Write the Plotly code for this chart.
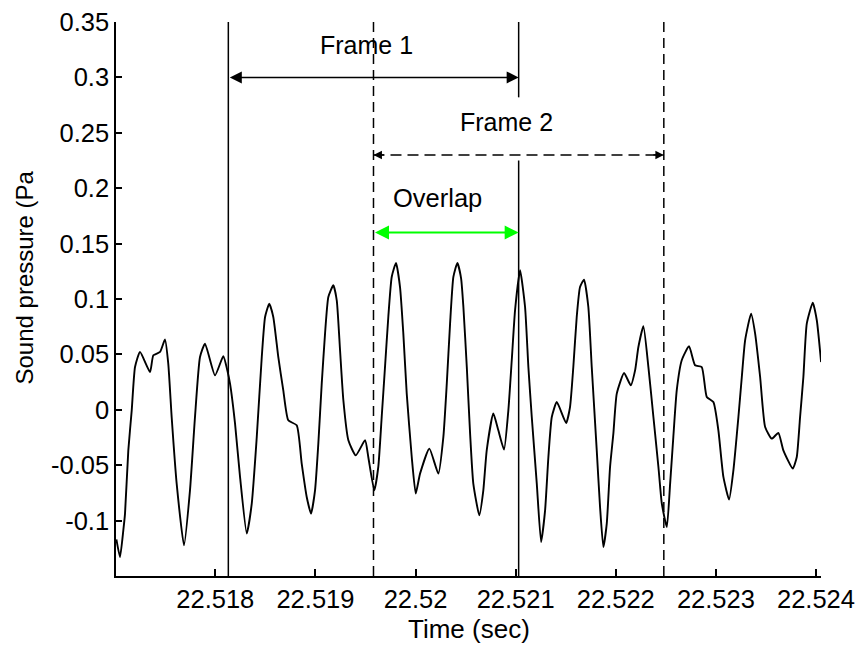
import plotly.graph_objects as go

# ---- data -------------------------------------------------------------
time_s = [
    22.517012, 22.517048, 22.517081, 22.517098, 22.517131, 22.517165, 22.517198, 22.517248,
    22.517348, 22.517381, 22.517448, 22.517497, 22.517530, 22.517564, 22.517614, 22.517687,
    22.517747, 22.517797, 22.517847, 22.517897, 22.517997, 22.518080, 22.518120, 22.518147,
    22.518197, 22.518247, 22.518314, 22.518364, 22.518414, 22.518464, 22.518497, 22.518539,
    22.518579, 22.518629, 22.518679, 22.518729, 22.518813, 22.518863, 22.518913, 22.518956,
    22.518996, 22.519029, 22.519063, 22.519096, 22.519129, 22.519179, 22.519213, 22.519246,
    22.519279, 22.519329, 22.519403, 22.519496, 22.519528, 22.519588, 22.519628, 22.519662,
    22.519695, 22.519728, 22.519762, 22.519805, 22.519845, 22.519878, 22.519912, 22.519962,
    22.520002, 22.520045, 22.520138, 22.520228, 22.520278, 22.520312, 22.520345, 22.520378,
    22.520418, 22.520455, 22.520478, 22.520512, 22.520545, 22.520577, 22.520637, 22.520677,
    22.520711, 22.520777, 22.520827, 22.520884, 22.520927, 22.520961, 22.520994, 22.521044,
    22.521094, 22.521127, 22.521161, 22.521211, 22.521254, 22.521294, 22.521327, 22.521361,
    22.521411, 22.521504, 22.521543, 22.521576, 22.521610, 22.521643, 22.521683, 22.521726,
    22.521760, 22.521810, 22.521843, 22.521876, 22.521910, 22.521943, 22.521976, 22.522010,
    22.522083, 22.522150, 22.522193, 22.522226, 22.522276, 22.522326, 22.522376, 22.522426,
    22.522460, 22.522510, 22.522543, 22.522575, 22.522609, 22.522659, 22.522732, 22.522792,
    22.522859, 22.522909, 22.522975, 22.523025, 22.523075, 22.523132, 22.523175, 22.523225,
    22.523259, 22.523292, 22.523352, 22.523392, 22.523442, 22.523492, 22.523558, 22.523624,
    22.523674, 22.523768, 22.523808, 22.523841, 22.523874, 22.523908, 22.523968, 22.524008,
    22.524051,
]
pressure_pa = [
    -0.1170, -0.1329, -0.1088, -0.0937, -0.0366, -0.0005, 0.0386, 0.0522,
    0.0341, 0.0492, 0.0522, 0.0634, 0.0417, -0.0065, -0.0666, -0.1223,
    -0.0727, -0.0065, 0.0477, 0.0597, 0.0311, 0.0483, 0.0356, 0.0236,
    -0.0125, -0.0606, -0.1117, -0.0847, -0.0245, 0.0477, 0.0838, 0.0958,
    0.0838, 0.0477, 0.0176, -0.0095, -0.0140, -0.0486, -0.0787, -0.0937,
    -0.0727, -0.0305, 0.0236, 0.0688, 0.1018, 0.1124, 0.0988, 0.0537,
    0.0086, -0.0275, -0.0411, -0.0275, -0.0426, -0.0727, -0.0516, -0.0065,
    0.0386, 0.0838, 0.1199, 0.1325, 0.1108, 0.0688, 0.0146, -0.0426,
    -0.0756, -0.0576, -0.0350, -0.0576, -0.0245, 0.0236, 0.0778, 0.1199,
    0.1325, 0.1187, 0.0928, 0.0386, -0.0215, -0.0666, -0.0952, -0.0727,
    -0.0366, -0.0034, -0.0185, -0.0359, -0.0005, 0.0447, 0.0898, 0.1259,
    0.0928, 0.0386, -0.0065, -0.0666, -0.1193, -0.0907, -0.0426, -0.0065,
    0.0070, -0.0119, 0.0025, 0.0386, 0.0838, 0.1108, 0.1175, 0.0928,
    0.0386, -0.0366, -0.0877, -0.1238, -0.1027, -0.0516, -0.0215, 0.0146,
    0.0332, 0.0221, 0.0356, 0.0567, 0.0754, 0.0386, -0.0065, -0.0516,
    -0.0847, -0.1058, -0.0666, -0.0245, 0.0176, 0.0447, 0.0573, 0.0402,
    0.0386, 0.0116, 0.0070, -0.0185, -0.0606, -0.0810, -0.0546, -0.0065,
    0.0296, 0.0627, 0.0868, 0.0688, 0.0296, -0.0155, -0.0260, -0.0209,
    -0.0366, -0.0531, -0.0426, -0.0065, 0.0296, 0.0778, 0.0967, 0.0808,
    0.0431,
]

frame_starts = [22.51813, 22.51958]
frame_length = 0.00290
frame_labels = ["Frame 1", "Frame 2"]
overlap_label = "Overlap"

x_tick_vals = [22.518, 22.519, 22.520, 22.521, 22.522, 22.523, 22.524]
x_tick_text = ["22.518", "22.519", "22.52", "22.521", "22.522", "22.523", "22.524"]
y_tick_vals = [-0.1, -0.05, 0, 0.05, 0.1, 0.15, 0.2, 0.25, 0.3, 0.35]
y_tick_text = ["-0.1", "-0.05", "0", "0.05", "0.1", "0.15", "0.2", "0.25", "0.3", "0.35"]

x_range = [22.517008, 22.524050]
y_range = [-0.15, 0.35]

# arrow / label heights (data units)
frame_arrow_y = [0.30, 0.23]
frame_text_y = [0.329, 0.26]
frame_text_x = [22.51951, 22.520911]
overlap_arrow_y = 0.16
overlap_text = (22.520215, 0.191)
gap_in_frame1_end = (0.225, 0.282)

FONT = "Liberation Sans, Arial, Helvetica, sans-serif"
TICK_FONT = dict(family=FONT, size=25.5, color="black")

fig = go.Figure()
fig.add_trace(go.Scatter(
    x=time_s, y=pressure_pa, mode="lines",
    line=dict(color="black", width=1.9, shape="spline", smoothing=0.5),
    hoverinfo="skip", showlegend=False,
))

shapes = []
f1s = frame_starts[0]
f1e = frame_starts[0] + frame_length
f2s = frame_starts[1]
f2e = frame_starts[1] + frame_length

# frame 1 edges (solid)
shapes.append(dict(type="line", xref="x", yref="y", x0=f1s, x1=f1s, y0=y_range[0], y1=y_range[1],
                   line=dict(color="black", width=1.5)))
shapes.append(dict(type="line", xref="x", yref="y", x0=f1e, x1=f1e, y0=y_range[0], y1=gap_in_frame1_end[0],
                   line=dict(color="black", width=1.5)))
shapes.append(dict(type="line", xref="x", yref="y", x0=f1e, x1=f1e, y0=gap_in_frame1_end[1], y1=y_range[1],
                   line=dict(color="black", width=1.5)))
# frame 2 edges (dashed)
for xv in (f2s, f2e):
    shapes.append(dict(type="line", xref="x", yref="y", x0=xv, x1=xv, y0=y_range[0], y1=y_range[1],
                       line=dict(color="black", width=1.5, dash="10px,6px")))
# frame 2 dashed arrow shaft
shapes.append(dict(type="line", xref="x", yref="y", x0=f2s, x1=f2e, y0=frame_arrow_y[1], y1=frame_arrow_y[1],
                   line=dict(color="black", width=1.5, dash="11px,6px")))

annotations = []
# frame 1 double arrow
annotations.append(dict(x=f1e, y=frame_arrow_y[0], ax=f1s, ay=frame_arrow_y[0], xref="x", yref="y",
                        axref="x", ayref="y", text="", showarrow=True, arrowhead=2, startarrowhead=2,
                        arrowside="end+start", arrowsize=1.6, startarrowsize=1.6, arrowwidth=1.5,
                        arrowcolor="black", standoff=0, startstandoff=0))
# overlap double arrow (green)
annotations.append(dict(x=f1e, y=overlap_arrow_y, ax=f2s, ay=overlap_arrow_y, xref="x", yref="y",
                        axref="x", ayref="y", text="", showarrow=True, arrowhead=2, startarrowhead=2,
                        arrowside="end+start", arrowsize=1.4, startarrowsize=1.4, arrowwidth=2,
                        arrowcolor="#00ff00", standoff=0, startstandoff=0))
# frame 2 arrow heads
annotations.append(dict(x=f2e, y=frame_arrow_y[1], ax=-12, ay=0, xref="x", yref="y", text="",
                        showarrow=True, arrowhead=2, arrowsize=1.3, arrowwidth=1.3, arrowcolor="black",
                        standoff=0))
annotations.append(dict(x=f2s, y=frame_arrow_y[1], ax=12, ay=0, xref="x", yref="y", text="",
                        showarrow=True, arrowhead=2, arrowsize=1.3, arrowwidth=1.3, arrowcolor="black",
                        standoff=0))
# labels
for lbl, tx, ty in zip(frame_labels, frame_text_x, frame_text_y):
    annotations.append(dict(x=tx, y=ty, xref="x", yref="y", text=lbl, showarrow=False,
                            font=dict(family=FONT, size=25, color="black"),
                            xanchor="center", yanchor="middle"))
annotations.append(dict(x=overlap_text[0], y=overlap_text[1], xref="x", yref="y", text=overlap_label,
                        showarrow=False, font=dict(family=FONT, size=25.5, color="black"),
                        xanchor="center", yanchor="middle"))
# axis titles
annotations.append(dict(x=0.5007, y=0, xref="paper", yref="paper", yshift=-53, text="Time (sec)",
                        showarrow=False, font=dict(family=FONT, size=26, color="black"),
                        xanchor="center", yanchor="middle"))
annotations.append(dict(x=0, y=0.5388, xref="paper", yref="paper", xshift=-91, text="Sound pressure (Pa",
                        textangle=-90, showarrow=False, font=dict(family=FONT, size=24, color="black"),
                        xanchor="center", yanchor="middle"))

fig.update_layout(
    width=856, height=648,
    margin=dict(l=116, r=35, t=22, b=72, autoexpand=False),
    paper_bgcolor="white", plot_bgcolor="white",
    shapes=shapes, annotations=annotations,
    showlegend=False,
    font=dict(family=FONT, size=24, color="black"),
)
fig.update_xaxes(range=x_range, tickvals=x_tick_vals, ticktext=x_tick_text, automargin=False,
                 showline=True, linecolor="black", linewidth=1.5, mirror=False,
                 ticks="inside", ticklen=7, tickwidth=1.5, tickcolor="black",
                 showgrid=False, zeroline=False, tickfont=TICK_FONT)
fig.update_yaxes(range=y_range, tickvals=y_tick_vals, ticktext=y_tick_text, automargin=False,
                 showline=True, linecolor="black", linewidth=1.5, mirror=False,
                 ticks="inside", ticklen=6, tickwidth=1.5, tickcolor="black",
                 showgrid=False, zeroline=False, ticklabelstandoff=0,
                 tickfont=TICK_FONT)

fig.write_html("out.html")
